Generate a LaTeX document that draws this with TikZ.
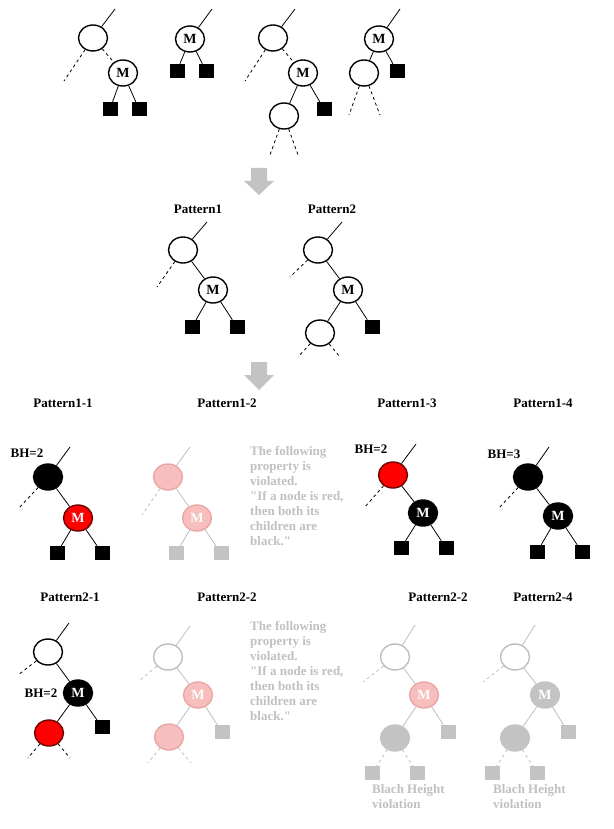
\documentclass[tikz,border=0pt]{standalone}
\usepackage{fontspec}
\setmainfont{Liberation Serif}
\usetikzlibrary{shapes.geometric}
\definecolor{redline}{RGB}{110, 0, 0}
\definecolor{pinkfill}{RGB}{248, 189, 189}
\definecolor{pinkline}{RGB}{232, 166, 166}
\definecolor{fadeline}{RGB}{190, 190, 190}
\definecolor{grayfill}{RGB}{195, 195, 195}
\definecolor{fadetext}{RGB}{192, 192, 192}
\newcommand{\lblfont}{\fontsize{13}{15}\selectfont\bfseries}
\newcommand{\keyfont}{\fontsize{14}{15}\selectfont\bfseries}
\tikzset{
  nd/.style    = {ellipse, minimum width=29pt, minimum height=26pt, inner sep=0pt, line width=1.4pt, draw=black, fill=white, font=\keyfont},
  bnd/.style   = {nd, fill=black, text=white},
  rnd/.style   = {nd, fill=red, draw=redline, text=white},
  pnd/.style   = {nd, fill=pinkfill, draw=pinkline, text=white},
  fnd/.style   = {nd, draw=fadeline, fill=white},
  gnd/.style   = {nd, fill=grayfill, draw=grayfill, text=white},
  leaf/.style  = {rectangle, minimum width=15pt, minimum height=14pt, inner sep=0pt, fill=black},
  gleaf/.style = {leaf, fill=grayfill},
  ln/.style    = {line width=0.8pt},
  dln/.style   = {ln, dash pattern=on 3pt off 3pt},
  fln/.style   = {line width=0.8pt, draw=fadeline},
  fdln/.style  = {fln, dash pattern=on 3pt off 3pt},
  lbl/.style   = {font=\lblfont, inner sep=0pt},
  note/.style  = {lbl, align=left, text=fadetext, anchor=north west},
  bigarrow/.style = {fill=grayfill}
}
\begin{document}
\begin{tikzpicture}[x=1pt, y=-1pt]
\useasboundingbox (0,0) rectangle (613,829);
% top row
\node[nd]     (t1r) at ( 93, 38) {};
\node[nd]     (t1m) at (123, 73) {M};
\node[leaf]   (t1a) at (110,109) {};
\node[leaf]   (t1b) at (139,109) {};
\coordinate   (t1t) at (115,  9);
\coordinate   (t1d) at ( 64, 81);
\draw[ln]  (t1r) -- (t1t);
\draw[dln] (t1r) -- (t1d);
\draw[dln] (t1r) -- (t1m);
\draw[ln]  (t1m) -- (t1a);
\draw[ln]  (t1m) -- (t1b);

\node[nd]     (t2m) at (190, 39) {M};
\node[leaf]   (t2a) at (177, 71) {};
\node[leaf]   (t2b) at (206, 71) {};
\coordinate   (t2t) at (212,  9);
\draw[ln]  (t2m) -- (t2t);
\draw[ln]  (t2m) -- (t2a);
\draw[ln]  (t2m) -- (t2b);

\node[nd]     (t3r) at (273, 38) {};
\node[nd]     (t3m) at (303, 73) {M};
\node[nd]     (t3c) at (284,116) {};
\node[leaf]   (t3b) at (324,109) {};
\coordinate   (t3t) at (295,  9);
\coordinate   (t3d) at (245, 81);
\coordinate   (t3e) at (270,155);
\coordinate   (t3f) at (298,155);
\draw[ln]  (t3r) -- (t3t);
\draw[dln] (t3r) -- (t3d);
\draw[dln] (t3r) -- (t3m);
\draw[ln]  (t3m) -- (t3c);
\draw[ln]  (t3m) -- (t3b);
\draw[dln] (t3c) -- (t3e);
\draw[dln] (t3c) -- (t3f);

\node[nd]     (t4m) at (379, 39) {M};
\node[nd]     (t4c) at (364, 73) {};
\node[leaf]   (t4b) at (397, 71) {};
\coordinate   (t4t) at (400,  9);
\coordinate   (t4e) at (349,115);
\coordinate   (t4f) at (380,115);
\draw[ln]  (t4m) -- (t4t);
\draw[ln]  (t4m) -- (t4c);
\draw[ln]  (t4m) -- (t4b);
\draw[dln] (t4c) -- (t4e);
\draw[dln] (t4c) -- (t4f);

\fill[bigarrow] (251,168) -- (267,168) -- (267,181) -- (274,181) -- (259,195) -- (244,181) -- (251,181) -- cycle;

% patterns
\node[lbl]    (l1)  at (198,209) {Pattern1};
\node[lbl]    (l2)  at (332,209) {Pattern2};

\node[nd]     (p1r) at (183,250) {};
\node[nd]     (p1m) at (213,290) {M};
\node[leaf]   (p1a) at (192,327) {};
\node[leaf]   (p1b) at (237,327) {};
\coordinate   (p1t) at (207,222);
\coordinate   (p1d) at (157,287);
\draw[ln]  (p1r) -- (p1t);
\draw[dln] (p1r) -- (p1d);
\draw[ln]  (p1r) -- (p1m);
\draw[ln]  (p1m) -- (p1a);
\draw[ln]  (p1m) -- (p1b);

\node[nd]     (p2r) at (318,250) {};
\node[nd]     (p2m) at (348,290) {M};
\node[nd]     (p2c) at (320,333) {};
\node[leaf]   (p2b) at (372,327) {};
\coordinate   (p2t) at (342,222);
\coordinate   (p2d) at (290,277);
\coordinate   (p2e) at (298,357);
\coordinate   (p2f) at (340,357);
\draw[ln]  (p2r) -- (p2t);
\draw[dln] (p2r) -- (p2d);
\draw[ln]  (p2r) -- (p2m);
\draw[ln]  (p2m) -- (p2c);
\draw[ln]  (p2m) -- (p2b);
\draw[dln] (p2c) -- (p2e);
\draw[dln] (p2c) -- (p2f);

\fill[bigarrow] (251,362) -- (267,362) -- (267,375) -- (274,375) -- (259,390) -- (244,375) -- (251,375) -- cycle;

% pattern1 cases
\node[lbl]    (l11) at ( 63,403) {Pattern1-1};
\node[lbl]    (l12) at (227,403) {Pattern1-2};
\node[lbl]    (l13) at (407,403) {Pattern1-3};
\node[lbl]    (l14) at (543,403) {Pattern1-4};

\node[lbl]    (h11) at ( 27,453) {BH=2};
\node[bnd]    (q1r) at ( 48,477) {};
\node[rnd]    (q1m) at ( 78,518) {M};
\node[leaf]   (q1a) at ( 57,553) {};
\node[leaf]   (q1b) at (102,553) {};
\coordinate   (q1t) at ( 70,447);
\coordinate   (q1d) at ( 18,509);
\draw[ln]  (q1r) -- (q1t);
\draw[dln] (q1r) -- (q1d);
\draw[ln]  (q1r) -- (q1m);
\draw[ln]  (q1m) -- (q1a);
\draw[ln]  (q1m) -- (q1b);

\node[pnd]    (q2r) at (168,477) {};
\node[pnd]    (q2m) at (197,518) {M};
\node[gleaf]  (q2a) at (176,553) {};
\node[gleaf]  (q2b) at (221,553) {};
\coordinate   (q2t) at (190,447);
\coordinate   (q2d) at (142,515);
\draw[fln]  (q2r) -- (q2t);
\draw[fdln] (q2r) -- (q2d);
\draw[fln]  (q2r) -- (q2m);
\draw[fln]  (q2m) -- (q2a);
\draw[fln]  (q2m) -- (q2b);
\node[note]   (n1)  at (250,446) {The following\\property is\\violated.\\\textquotedbl If a node is red,\\then both its\\children are\\black.\textquotedbl};

\node[lbl]    (h13) at (371,449) {BH=2};
\node[rnd]    (q3r) at (393,475) {};
\node[bnd]    (q3m) at (423,513) {M};
\node[leaf]   (q3a) at (401,548) {};
\node[leaf]   (q3b) at (446,548) {};
\coordinate   (q3t) at (416,444);
\coordinate   (q3d) at (364,508);
\draw[ln]  (q3r) -- (q3t);
\draw[dln] (q3r) -- (q3d);
\draw[ln]  (q3r) -- (q3m);
\draw[ln]  (q3m) -- (q3a);
\draw[ln]  (q3m) -- (q3b);

\node[lbl]    (h14) at (504,454) {BH=3};
\node[bnd]    (q4r) at (528,477) {};
\node[bnd]    (q4m) at (558,516) {M};
\node[leaf]   (q4a) at (537,552) {};
\node[leaf]   (q4b) at (582,552) {};
\coordinate   (q4t) at (549,447);
\coordinate   (q4d) at (498,509);
\draw[ln]  (q4r) -- (q4t);
\draw[dln] (q4r) -- (q4d);
\draw[ln]  (q4r) -- (q4m);
\draw[ln]  (q4m) -- (q4a);
\draw[ln]  (q4m) -- (q4b);

% pattern2 cases
\node[lbl]    (l21) at ( 70,597) {Pattern2-1};
\node[lbl]    (l22) at (227,597) {Pattern2-2};
\node[lbl]    (l23) at (438,597) {Pattern2-2};
\node[lbl]    (l24) at (543,597) {Pattern2-4};

\node[nd]     (s1r) at ( 48,652) {};
\node[bnd]    (s1m) at ( 78,693) {M};
\node[rnd]    (s1c) at ( 49,733) {};
\node[leaf]   (s1b) at (102,727) {};
\node[lbl]    (h21) at ( 41,693) {BH=2};
\coordinate   (s1t) at ( 69,623);
\coordinate   (s1d) at ( 18,675);
\coordinate   (s1e) at ( 28,758);
\coordinate   (s1f) at ( 70,758);
\draw[ln]  (s1r) -- (s1t);
\draw[dln] (s1r) -- (s1d);
\draw[ln]  (s1r) -- (s1m);
\draw[ln]  (s1m) -- (s1c);
\draw[ln]  (s1m) -- (s1b);
\draw[dln] (s1c) -- (s1e);
\draw[dln] (s1c) -- (s1f);

\node[fnd]    (s2r) at (168,657) {};
\node[pnd]    (s2m) at (198,695) {M};
\node[pnd]    (s2c) at (169,737) {};
\node[gleaf]  (s2b) at (222,732) {};
\coordinate   (s2t) at (190,626);
\coordinate   (s2d) at (140,680);
\coordinate   (s2e) at (148,763);
\coordinate   (s2f) at (191,763);
\draw[fln]  (s2r) -- (s2t);
\draw[fdln] (s2r) -- (s2d);
\draw[fln]  (s2r) -- (s2m);
\draw[fln]  (s2m) -- (s2c);
\draw[fln]  (s2m) -- (s2b);
\draw[fdln] (s2c) -- (s2e);
\draw[fdln] (s2c) -- (s2f);
\node[note]   (n2)  at (250,621) {The following\\property is\\violated.\\\textquotedbl If a node is red,\\then both its\\children are\\black.\textquotedbl};

\node[fnd]    (s3r) at (395,657) {};
\node[pnd]    (s3m) at (424,695) {M};
\node[gnd]    (s3c) at (395,738) {};
\node[gleaf]  (s3b) at (448,732) {};
\node[gleaf]  (s3e) at (372,773) {};
\node[gleaf]  (s3f) at (417,773) {};
\coordinate   (s3t) at (415,625);
\coordinate   (s3d) at (363,682);
\draw[fln]  (s3r) -- (s3t);
\draw[fdln] (s3r) -- (s3d);
\draw[fln]  (s3r) -- (s3m);
\draw[fln]  (s3m) -- (s3c);
\draw[fln]  (s3m) -- (s3b);
\draw[fdln] (s3c) -- (s3e);
\draw[fdln] (s3c) -- (s3f);
\node[note]   (n3)  at (372,784) {Blach Height\\violation};

\node[fnd]    (s4r) at (515,657) {};
\node[gnd]    (s4m) at (545,695) {M};
\node[gnd]    (s4c) at (515,738) {};
\node[gleaf]  (s4b) at (568,732) {};
\node[gleaf]  (s4e) at (492,773) {};
\node[gleaf]  (s4f) at (537,773) {};
\coordinate   (s4t) at (535,625);
\coordinate   (s4d) at (483,682);
\draw[fln]  (s4r) -- (s4t);
\draw[fdln] (s4r) -- (s4d);
\draw[fln]  (s4r) -- (s4m);
\draw[fln]  (s4m) -- (s4c);
\draw[fln]  (s4m) -- (s4b);
\draw[fdln] (s4c) -- (s4e);
\draw[fdln] (s4c) -- (s4f);
\node[note]   (n4)  at (493,784) {Blach Height\\violation};
\end{tikzpicture}
\end{document}
